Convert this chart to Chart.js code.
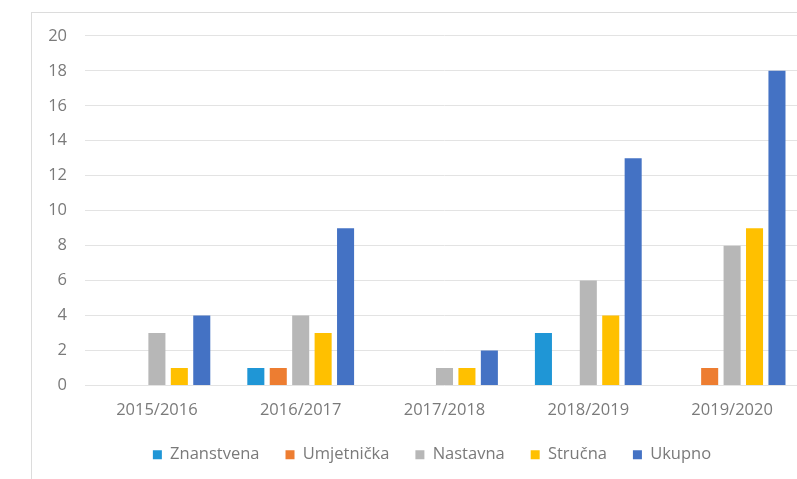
<!DOCTYPE html>
<html>
<head>
<meta charset="utf-8">
<script src="https://cdn.jsdelivr.net/npm/chart.js@4.4.1/dist/chart.umd.min.js"></script>
<style>
  html, body { margin: 0; padding: 0; background: #fff; overflow: hidden; width: 797px; height: 479px; }
  .frame { position: absolute; left: 31px; top: 12px; width: 820px; height: 480px; border: 1px solid #dcdcdc; }
  .box { position: absolute; left: 32px; top: 8px; width: 830px; height: 467px; }
</style>
</head>
<body>
<div class="frame"></div>
<div class="box"><canvas id="chart"></canvas></div>
<script>
const years = ["2015/2016", "2016/2017", "2017/2018", "2018/2019", "2019/2020"]
const znanstvena = [0, 1, 0, 3, 0]
const umjetnicka = [0, 1, 0, 0, 1]
const nastavna = [3, 4, 1, 6, 8]
const strucna = [1, 3, 1, 4, 9]
const ukupno = [4, 9, 2, 13, 18]
const yTicks = [0, 2, 4, 6, 8, 10, 12, 14, 16, 18, 20]

const textColor = "#7a7a7a"
const font = { family: "'Open Sans', sans-serif", size: 16.5 }

new Chart(document.getElementById("chart"), {
  type: "bar",
  data: {
    labels: years,
    datasets: [
      { label: "Znanstvena", data: znanstvena, backgroundColor: "#1f96d6" },
      { label: "Umjetnička", data: umjetnicka, backgroundColor: "#ed7d31" },
      { label: "Nastavna", data: nastavna, backgroundColor: "#b7b7b7" },
      { label: "Stručna", data: strucna, backgroundColor: "#ffc000" },
      { label: "Ukupno", data: ukupno, backgroundColor: "#4472c4" }
    ]
  },
  options: {
    responsive: true,
    maintainAspectRatio: false,
    animation: false,
    layout: { padding: { top: 8, right: 30, bottom: 2, left: 0 } },
    datasets: { bar: { categoryPercentage: 0.78, barPercentage: 0.76 } },
    scales: {
      x: {
        grid: { display: false, drawTicks: false },
        border: { display: false },
        ticks: { color: textColor, font: font, padding: 15, maxRotation: 0 },
        afterFit: (scale) => { scale.height = 35 }
      },
      y: {
        min: 0,
        max: 20,
        afterBuildTicks: (scale) => { scale.ticks = yTicks.map(v => ({ value: v })) },
        grid: { color: "#e3e3e3", lineWidth: 1, drawTicks: false },
        border: { display: false },
        ticks: { color: textColor, font: font, padding: 18 },
        afterFit: (scale) => { scale.width = 53 }
      },
      // empty right axis: only reserves space so the legend sits right of centre
      yPad: {
        position: "right",
        min: 0,
        max: 20,
        grid: { display: false },
        border: { display: false },
        ticks: { display: false },
        afterFit: (scale) => { scale.width = 28 }
      }
    },
    plugins: {
      legend: {
        position: "bottom",
        labels: { color: textColor, font: font, boxWidth: 9, boxHeight: 9, padding: 26 }
      },
      tooltip: { enabled: false }
    }
  }
})
</script>
</body>
</html>
